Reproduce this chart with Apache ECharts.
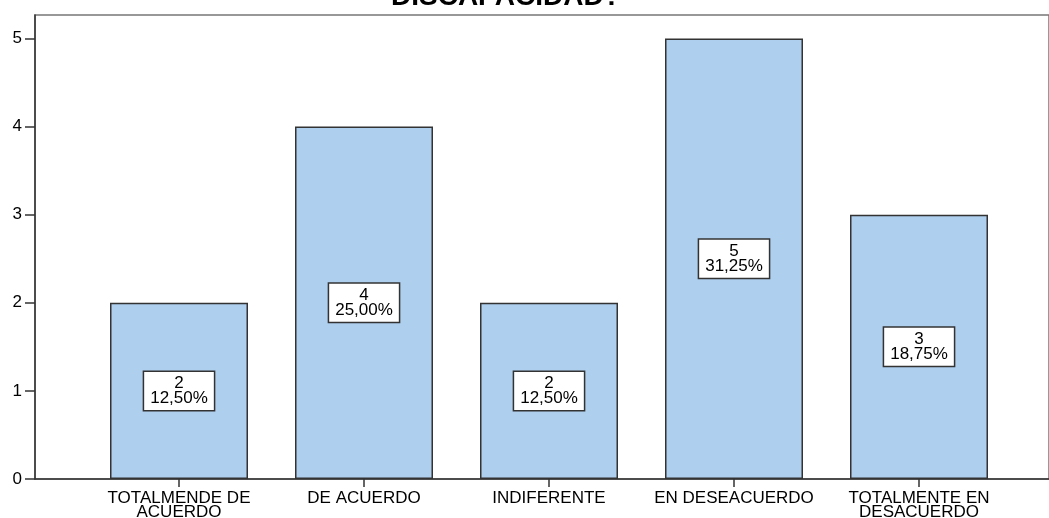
<!DOCTYPE html>
<html>
<head>
<meta charset="utf-8">
<script src="https://cdn.jsdelivr.net/npm/echarts@6/dist/echarts.min.js"></script>
<style>
  html, body { margin: 0; padding: 0; background: #fff; }
  #chart { width: 1049px; height: 518px; }
</style>
</head>
<body>
<div id="chart"></div>
<script>
// respuestas
var categories = ['TOTALMENDE DE\nACUERDO', 'DE ACUERDO', 'INDIFERENTE', 'EN DESEACUERDO', 'TOTALMENTE EN\nDESACUERDO']
var counts = [2, 4, 2, 5, 3]
var percents = ['12,50%', '25,00%', '12,50%', '31,25%', '18,75%']
var yTicks = [0, 1, 2, 3, 4, 5]

var positions = categories.map(function (c, i) { return i + 1 })
var font = 'Liberation Sans, Arial, sans-serif'

var chart = echarts.init(document.getElementById('chart'))
chart.setOption({
  animation: false,
  backgroundColor: '#fff',
  title: {
    text: 'DISCAPACIDAD?',
    left: 386,
    top: -22,
    textStyle: { fontFamily: font, fontSize: 28, fontWeight: 'bold', color: '#000' }
  },
  grid: {
    left: 35,
    right: 0,
    top: 15,
    bottom: 39,
    outerBoundsMode: 'none',
    containLabel: false,
    show: true,
    borderColor: '#777',
    borderWidth: 1.5
  },
  xAxis: {
    type: 'value',
    min: 0.2216,
    max: 5.7027,
    splitLine: { show: false },
    axisLine: { show: true, lineStyle: { color: '#333', width: 1.5 } },
    axisTick: { show: true, length: 8, customValues: positions, lineStyle: { color: '#333', width: 1.5 } },
    axisLabel: {
      customValues: positions,
      margin: 12,
      color: '#000',
      fontFamily: font,
      fontSize: 17,
      lineHeight: 14,
      formatter: function (v) { return categories[Math.round(v) - 1] }
    }
  },
  yAxis: {
    type: 'value',
    min: 0,
    max: 5.266,
    interval: 1,
    splitLine: { show: false },
    axisLine: { show: true, lineStyle: { color: '#333', width: 1.5 } },
    axisTick: { show: true, length: 10, customValues: yTicks, lineStyle: { color: '#333', width: 1.5 } },
    axisLabel: {
      customValues: yTicks,
      margin: 13,
      color: '#000',
      fontFamily: font,
      fontSize: 17
    }
  },
  series: [{
    type: 'bar',
    barWidth: 138,
    data: counts.map(function (v, i) { return [positions[i], v] }),
    itemStyle: { color: '#aecfee', borderColor: '#333', borderWidth: 1.5 },
    label: {
      show: true,
      position: 'inside',
      formatter: function (p) { return counts[p.dataIndex] + '\n' + percents[p.dataIndex] },
      color: '#000',
      fontFamily: font,
      fontSize: 17,
      lineHeight: 15,
      align: 'center',
      backgroundColor: '#fff',
      borderColor: '#333',
      borderWidth: 1.5,
      padding: [4, 6, 4, 6]
    }
  }]
})
</script>
</body>
</html>
